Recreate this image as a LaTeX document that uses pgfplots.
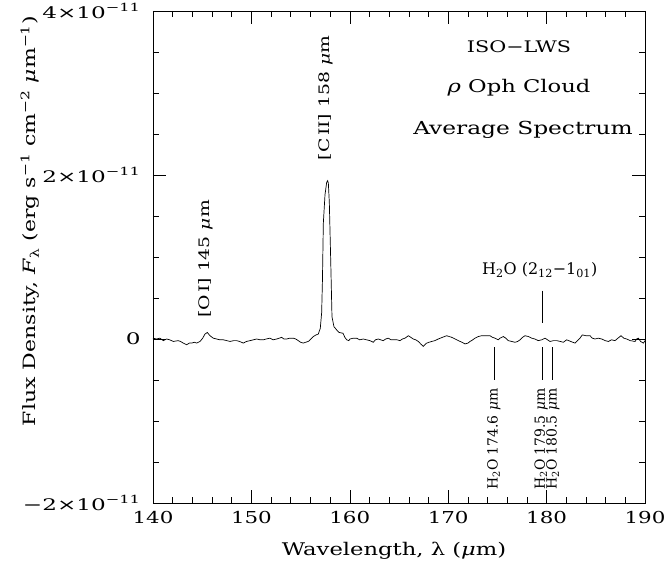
\documentclass[border=0pt]{standalone}
\usepackage{fontspec}
\setmainfont[FakeStretch=1.3]{DejaVu Serif}
\newfontfamily\plainfont{DejaVu Serif}
\newfontfamily\widefont[FakeStretch=1.45]{DejaVu Serif}
\usepackage{pgfplots}
\pgfplotsset{compat=1.18}
\begin{document}
\begin{tikzpicture}
\useasboundingbox (-153bp,-66bp) rectangle (513bp,503bp);
\begin{axis}[
  at={(0,0)}, anchor=south west,
  width=492bp, height=492bp, scale only axis,
  xmin=140, xmax=190, ymin=-2, ymax=4,
  xtick={140,150,...,190}, xticklabels={140,150,160,170,180,190},
  ytick={-2,0,2,4},
  yticklabels={−2×10\textsuperscript{−11},0,2×10\textsuperscript{−11},4×10\textsuperscript{−11}},
  minor x tick num=4, minor y tick num=3,
  tick align=inside,
  major tick length=13bp, minor tick length=6bp,
  tick style={black, line width=0.6bp},
  axis line style={line width=0.9bp},
  tick label style={font=\fontsize{16.5}{16.5}\selectfont},
  xticklabel style={yshift=-5bp},
  yticklabel style={xshift=-9bp, font=\widefont\fontsize{16}{16}\selectfont},
  xlabel={Wavelength, λ (\textit{μ}m)},
  ylabel={Flux Density, \textit{F}\textsubscript{λ} (erg s\textsuperscript{−1} cm\textsuperscript{−2} \textit{μ}m\textsuperscript{−1})},
  xlabel style={font=\fontsize{17.5}{17.5}\selectfont, at={(axis description cs:0.49,-0.098)}, anchor=center},
  ylabel style={font=\fontsize{17}{17}\selectfont, at={(axis description cs:-0.25,0.573)}, anchor=center},
  clip=false,
]
\addplot[black, line width=0.7bp] coordinates {
(140.00,0.01) (140.37,0.00) (140.7,0.01) (141.05,-0.02) (141.39,0.00) (141.7,-0.01) (142.07,-0.03)
(142.57,-0.02) (142.8,-0.03) (143.08,-0.05) (143.42,-0.07) (143.7,-0.05) (143.93,-0.05) (144.2,-0.04)
(144.44,-0.05) (144.78,-0.03) (145.05,0.01) (145.28,0.06) (145.52,0.08) (145.79,0.04)
(146.13,0.01) (146.47,0.00) (146.8,-0.01) (147.15,-0.01) (147.5,-0.02) (147.83,-0.03) (148.2,-0.02)
(148.50,-0.02) (148.8,-0.03) (149.18,-0.05) (149.5,-0.03) (149.86,-0.02) (150.2,-0.01) (150.54,0.00)
(150.9,-0.01) (151.21,-0.01) (151.5,0.00) (151.89,0.01) (152.2,-0.01) (152.57,0.00) (153.08,0.02)
(153.3,0.00) (153.59,0.00) (153.9,0.01) (154.26,0.01) (154.5,0.00) (154.77,-0.02) (155.0,-0.04)
(155.27,-0.05) (155.5,-0.04) (155.78,-0.03) (156.05,0.00) (156.29,0.03) (156.57,0.05)
(156.80,0.06) (157.00,0.13) (157.14,0.32) (157.22,0.72) (157.31,1.41) (157.48,1.76)
(157.65,1.91) (157.75,1.93) (157.82,1.90) (157.92,1.66) (158.06,0.96) (158.19,0.27)
(158.39,0.15) (158.67,0.11) (158.9,0.08) (159.31,0.07) (159.5,0.02) (159.69,-0.01)
(159.9,-0.02) (160.02,0.00) (160.35,0.01) (160.70,0.01) (161.0,-0.01) (161.37,0.00) (161.7,-0.01)
(162.05,-0.02) (162.39,-0.04) (162.6,-0.01) (162.90,0.00) (163.15,-0.01) (163.40,-0.02) (163.65,0.00)
(163.91,0.01) (164.2,-0.01) (164.42,-0.01) (164.8,-0.01) (165.10,-0.02) (165.35,0.00) (165.61,0.01)
(165.95,0.04) (166.2,0.02) (166.45,0.00) (166.7,-0.01) (166.96,-0.03) (167.2,-0.06) (167.47,-0.09)
(167.81,-0.05) (168.05,-0.04) (168.32,-0.03) (168.65,-0.02) (168.99,0.00) (169.4,0.02) (169.85,0.04)
(170.36,0.02) (170.7,0.00) (171.03,-0.02) (171.4,-0.04) (171.71,-0.06) (172.0,-0.05) (172.22,-0.03)
(172.50,-0.01) (172.72,0.01) (173.05,0.03) (173.40,0.04) (173.8,0.04) (174.25,0.04) (174.5,0.02)
(174.76,0.01) (175.09,-0.01) (175.26,0.01) (175.6,0.03) (175.85,0.01) (176.11,-0.02) (176.45,-0.03)
(176.79,-0.04) (177.05,-0.03) (177.3,-0.01) (177.55,0.02) (177.8,0.04) (178.15,0.03) (178.49,0.01)
(178.8,0.00) (179.16,-0.02) (179.5,-0.01) (179.84,0.01) (180.1,-0.01) (180.35,-0.03) (180.7,-0.02)
(181.03,-0.02) (181.4,-0.03) (181.70,-0.04) (182.04,-0.01) (182.45,-0.03) (182.89,-0.05) (183.15,-0.02)
(183.39,0.01) (183.63,0.05) (184.0,0.04) (184.41,0.04) (184.65,0.01) (184.92,0.00) (185.25,0.01)
(185.6,0.00) (185.95,-0.02) (186.28,-0.03) (186.6,-0.01) (186.95,-0.02) (187.25,0.01) (187.56,0.04)
(187.85,0.01) (188.14,0.00) (188.5,-0.02) (188.99,-0.03) (189.15,0.00) (189.33,0.01) (189.55,-0.03)
(189.84,-0.05) (190.00,-0.02)
};
\node[rotate=90, anchor=west, inner sep=0pt, font=\fontsize{14.5}{14.5}\selectfont] at (axis cs:145.35,0.256) {[O\,I] 145 \textit{μ}m};
\node[rotate=90, anchor=west, inner sep=0pt, font=\fontsize{14.5}{14.5}\selectfont] at (axis cs:157.55,2.18) {[C\,II] 158 \textit{μ}m};
\node[font=\plainfont\fontsize{16}{16}\selectfont] at (axis cs:179.3,0.84) {H\textsubscript{2}O (2\textsubscript{12}−1\textsubscript{01})};
\draw[line width=0.6bp] (axis cs:179.6,0.59) -- (axis cs:179.6,0.20);
\draw[line width=0.6bp] (axis cs:174.7,-0.10) -- (axis cs:174.7,-0.50);
\draw[line width=0.6bp] (axis cs:179.6,-0.10) -- (axis cs:179.6,-0.50);
\draw[line width=0.6bp] (axis cs:180.6,-0.10) -- (axis cs:180.6,-0.50);
\node[rotate=90, anchor=east, inner sep=0pt, font=\plainfont\fontsize{14}{14}\selectfont] at (axis cs:174.65,-0.60) {H\textsubscript{2}O 174.6 \textit{μ}m};
\node[rotate=90, anchor=east, inner sep=0pt, font=\plainfont\fontsize{14}{14}\selectfont] at (axis cs:179.45,-0.60) {H\textsubscript{2}O 179.5 \textit{μ}m};
\node[rotate=90, anchor=east, inner sep=0pt, font=\plainfont\fontsize{14}{14}\selectfont] at (axis cs:180.65,-0.60) {H\textsubscript{2}O 180.5 \textit{μ}m};
\node[font=\fontsize{16}{16}\selectfont] at (axis cs:177.2,3.56) {ISO−LWS};
\node[font=\fontsize{17.5}{17.5}\selectfont] at (axis cs:177.2,3.06) {\textit{ρ} Oph Cloud};
\node[font=\fontsize{18}{18}\selectfont] at (axis cs:177.6,2.55) {Average Spectrum};
\end{axis}
\end{tikzpicture}
\end{document}
